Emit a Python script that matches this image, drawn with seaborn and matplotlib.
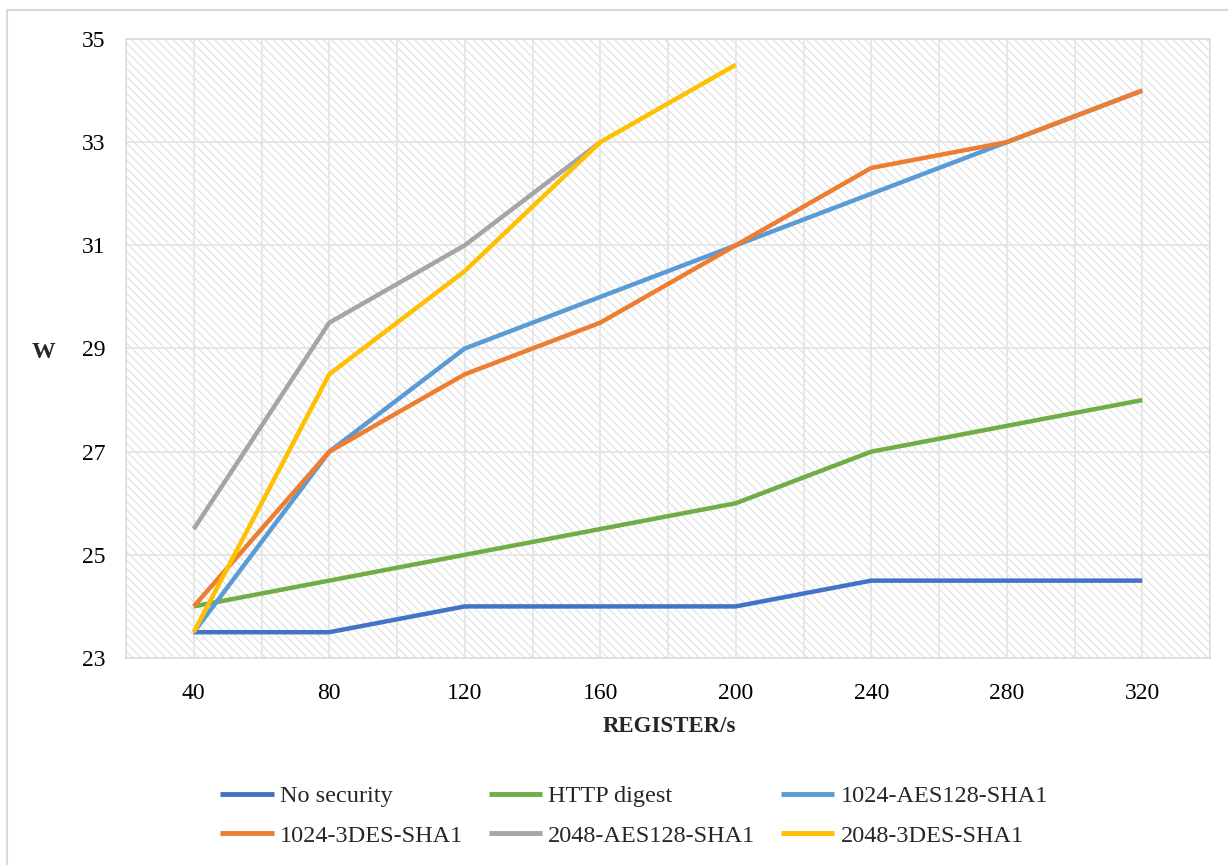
import matplotlib
matplotlib.use("Agg")
import matplotlib.pyplot as plt
from matplotlib.patches import Rectangle
import seaborn as sns
import pandas as pd

# Registration rate (REGISTER/s) and measured power (W)
rates = [40, 80, 120, 160, 200, 240, 280, 320]
no_security = [23.5, 23.5, 24, 24, 24, 24.5, 24.5, 24.5]
http_digest = [24, 24.5, 25, 25.5, 26, 27, 27.5, 28]
aes128_1024 = [23.5, 27, 29, 30, 31, 32, 33, 34]
des3_1024 = [24, 27, 28.5, 29.5, 31, 32.5, 33, 34]
aes128_2048 = [25.5, 29.5, 31, 33]
des3_2048 = [23.5, 28.5, 30.5, 33, 34.5]

series_names = ["No security", "HTTP digest", "1024-AES128-SHA1",
                "1024-3DES-SHA1", "2048-AES128-SHA1", "2048-3DES-SHA1"]
series_values = [no_security, http_digest, aes128_1024,
                 des3_1024, aes128_2048, des3_2048]
colors = ["#4472C4", "#70AD47", "#5B9BD5", "#ED7D31", "#A5A5A5", "#FFC000"]

rows = []
for name, vals in zip(series_names, series_values):
    for r, v in zip(rates, vals):
        rows.append({"rate": r, "power": v, "series": name})
df = pd.DataFrame(rows)

sns.set_theme(style="white")
plt.rcParams["font.family"] = ["Liberation Serif", "DejaVu Serif"]
plt.rcParams["hatch.linewidth"] = 0.9

fig = plt.figure(figsize=(12.28, 8.65), dpi=100)
ax = fig.add_axes([126 / 1228, 1 - 658 / 865, (1210 - 126) / 1228, (658 - 39) / 865])

# hatched plot area
ax.patch.set_facecolor("white")
ax.patch.set_hatch("\\\\\\\\")
ax.patch.set_edgecolor("#e2e2e2")
ax.patch.set_linewidth(0)

sns.lineplot(data=df, x="rate", y="power", hue="series", hue_order=series_names,
             palette=colors, linewidth=3.2, ax=ax, legend=True, sort=False,
             solid_capstyle="butt")

ax.set_xlim(20, 340)
ax.set_ylim(23, 35)
ax.set_xticks(rates)
ax.set_xticks([20 + 40 * i for i in range(9)], minor=True)
ax.set_yticks([23, 25, 27, 29, 31, 33, 35])
ax.grid(True, which="both", color="#e3e3e3", linewidth=1.2)
ax.set_axisbelow(True)
ax.tick_params(axis="both", which="both", length=0, labelsize=17, colors="black")
ax.tick_params(axis="y", pad=15)
ax.tick_params(axis="x", pad=18)
for s in ax.spines.values():
    s.set_color("#dcdcdc")
    s.set_linewidth(1.2)
ax.set_xlabel("")
ax.set_ylabel("")

fig.text(43 / 1228, 1 - 352 / 865, "W", fontsize=17, fontweight="bold",
         ha="center", va="center")
fig.text(669 / 1228, 1 - 727 / 865, "REGISTER/s", fontsize=16.5, fontweight="bold",
         ha="center", va="center")

handles, labels = ax.get_legend_handles_labels()
ax.get_legend().remove()
order = [0, 3, 1, 4, 2, 5]
leg = fig.legend([handles[i] for i in order], [labels[i] for i in order],
                 ncol=3, loc="center", bbox_to_anchor=(634 / 1228, 1 - 816 / 865),
                 frameon=False, fontsize=17.5, handlelength=2.2, handletextpad=0.25,
                 columnspacing=1.05, labelspacing=0.72)
for line in leg.get_lines():
    line.set_linewidth(3.5)

# outer chart border
fig.add_artist(Rectangle((7 / 1228, -0.05), 1.1, 1 - 10 / 865 + 0.05,
                         transform=fig.transFigure, fill=False,
                         edgecolor="#d9d9d9", linewidth=1.5))

fig.savefig("out.png", dpi=100)
